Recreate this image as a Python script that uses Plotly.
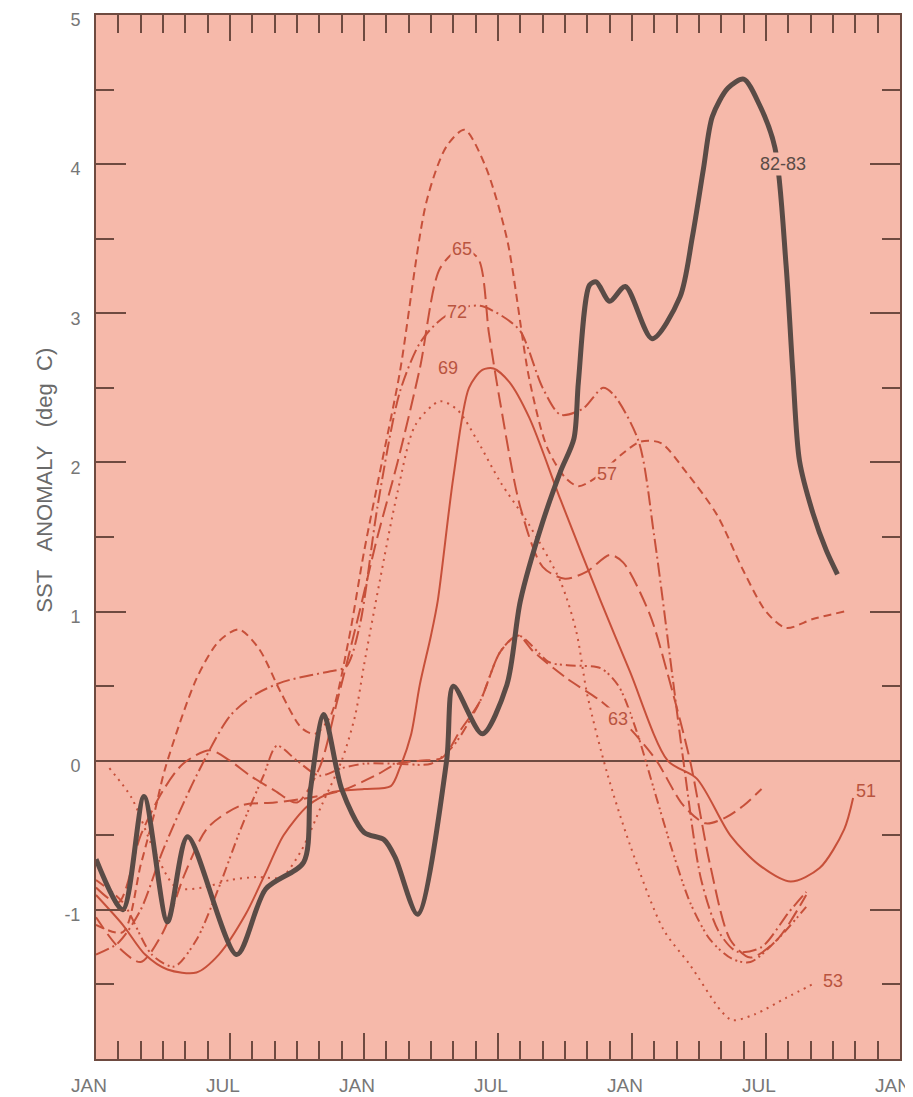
import plotly.graph_objects as go

# months since the first JAN on the axis (0..36), SST anomaly in deg C
x_8283 = [0, 1.2, 2.15, 3.2, 4.1, 6.3, 7.6, 9.3, 9.6, 10.2, 11.0, 12.0, 12.9, 13.4, 14.4, 15.7, 16.0, 17.3, 18.4, 19.0,
          20.0, 20.8, 21.4, 21.6, 22.1, 22.4, 23.0, 23.7, 24.9, 26.15, 26.7, 27.2, 27.6, 28.3, 29.0, 29.7, 30.4,
          30.9, 31.2, 31.5, 32.1, 32.7, 33.2]
y_8283 = [-0.66, -1.0, -0.24, -1.08, -0.51, -1.30, -0.86, -0.68, -0.2, 0.31, -0.19, -0.48, -0.53, -0.65, -1.03, 0.0,
          0.5, 0.18, 0.51, 1.07, 1.6, 1.94, 2.16, 2.54, 3.19, 3.21, 3.08, 3.18, 2.83, 3.11, 3.51, 3.97, 4.32, 4.51,
          4.57, 4.40, 4.11, 3.32, 2.61, 2.01, 1.66, 1.41, 1.25]

x_51 = [0, 1.2, 2.2, 3.2, 4.5, 5.5, 6.7, 7.6, 8.4, 9.5, 10.6, 12.0, 13.2, 13.6, 14.1, 14.5, 15.0, 15.3, 16.0, 16.7,
        17.3, 17.8, 18.5, 19.4, 20.8, 22.6, 23.9, 25.6, 26.9, 28.4, 29.7, 31.1, 32.4, 33.5, 33.9]
y_51 = [-0.9, -1.1, -1.3, -1.4, -1.42, -1.3, -1.03, -0.75, -0.5, -0.3, -0.21, -0.19, -0.17, -0.05, 0.17, 0.51, 0.84,
        1.07, 1.9, 2.5, 2.62, 2.63, 2.54, 2.3, 1.75, 1.07, 0.6, 0.0, -0.12, -0.5, -0.7, -0.81, -0.72, -0.46, -0.25]

x_53 = [0.6, 1.6, 2.6, 3.6, 4.8, 6.0, 7.2, 8.3, 9.2, 10.1, 11.0, 11.6, 12.0, 12.7, 13.5, 14.3, 15.4, 16.2, 17.1,
        18.1, 19.4, 20.8, 21.5, 22.0, 22.9, 23.9, 25.4, 26.6, 28.0, 28.5, 29.5, 30.9, 32.2]
y_53 = [-0.05, -0.25, -0.6, -0.85, -0.85, -0.8, -0.78, -0.78, -0.6, -0.3, 0.0, 0.3, 0.64, 1.2, 1.8, 2.25, 2.41,
        2.35, 2.14, 1.87, 1.58, 1.2, 0.87, 0.44, -0.09, -0.56, -1.13, -1.37, -1.68, -1.74, -1.7, -1.59, -1.49]

x_57 = [0, 1.2, 2.0, 2.6, 3.1, 4.5, 5.5, 6.4, 7.3, 8.3, 9.2, 9.8, 10.5, 11.3, 12.0, 12.8, 13.6, 14.8, 15.7, 16.5,
        17.4, 18.4, 19.4, 20.2, 21.0, 21.6, 22.4, 23.5, 24.4, 25.3, 26.4, 27.8, 29.0, 30.0, 30.9, 32.1, 33.5]
y_57 = [-1.1, -1.15, -0.7, -0.36, -0.05, 0.55, 0.8, 0.88, 0.75, 0.45, 0.22, 0.18, 0.3, 0.8, 1.4, 2.0, 2.6, 3.75,
        4.12, 4.23, 4.0, 3.5, 2.56, 2.1, 1.9, 1.84, 1.9, 2.05, 2.14, 2.13, 1.94, 1.65, 1.27, 1.0, 0.89, 0.95, 1.0]

x_63 = [0, 1.0, 2.0, 3.0, 4.0, 5.0, 6.5, 8.0, 9.5, 11.0, 12.5, 13.5, 14.5, 15.5, 16.3, 17.2, 18.1, 18.9, 19.6,
        21.1, 22.6, 23.5, 24.3, 25.1, 26.3, 27.3, 28.2, 29.0, 29.8]
y_63 = [-1.05, -1.25, -1.35, -1.15, -0.75, -0.45, -0.3, -0.28, -0.25, -0.2, -0.1, -0.02, 0.0, 0.02, 0.2, 0.4, 0.73,
        0.84, 0.73, 0.55, 0.4, 0.28, 0.15, 0.0, -0.3, -0.42, -0.38, -0.3, -0.19]

x_65 = [0, 1.0, 2.0, 3.0, 3.9, 5.1, 6.0, 6.9, 8.0, 9.0, 10.0, 10.8, 11.8, 12.6, 13.5, 14.5, 15.4, 16.3, 17.1, 17.6,
        18.1, 19.0, 20.0, 21.0, 22.0, 23.0, 23.6, 24.8, 25.6, 26.6, 27.5, 28.4, 29.3, 30.5, 31.8]
y_65 = [-0.85, -0.95, -0.5, -0.2, -0.02, 0.07, 0.0, -0.1, -0.2, -0.28, -0.05, 0.4, 1.0, 1.5, 2.0, 2.63, 3.3, 3.43,
        3.37, 2.86, 2.4, 1.7, 1.3, 1.22, 1.27, 1.38, 1.33, 0.98, 0.58, 0.0, -0.7, -1.2, -1.32, -1.2, -0.9]

x_69 = [0, 1.2, 2.5, 3.5, 4.5, 5.5, 6.5, 7.5, 8.1, 9.0, 10.0, 11.0, 12.0, 13.5, 15.0, 16.0, 17.2, 18.1, 18.9, 20.3,
        21.1, 22.6, 23.4, 24.2, 25.0, 25.8, 26.6, 27.5, 28.5, 29.3, 30.5, 31.8]
y_69 = [-0.8, -0.95, -1.3, -1.38, -1.2, -0.85, -0.45, -0.1, 0.1, 0.0, -0.1, -0.05, -0.02, -0.02, -0.02, 0.1, 0.4,
        0.73, 0.84, 0.66, 0.64, 0.62, 0.5, 0.2, -0.2, -0.6, -0.95, -1.2, -1.33, -1.35, -1.2, -0.98]

x_72 = [0, 1.0, 2.0, 3.0, 4.5, 6.0, 7.2, 8.4, 9.5, 10.5, 11.2, 11.8, 12.6, 13.6, 14.5, 15.3, 16.2, 17.2, 18.2, 19.0,
        20.0, 20.8, 21.8, 22.7, 23.2, 24.3, 25.0, 25.8, 26.3, 27.1, 27.9, 28.7, 29.8, 31.0, 31.8]
y_72 = [-1.3, -1.22, -1.0, -0.6, -0.1, 0.3, 0.45, 0.53, 0.57, 0.6, 0.63, 0.9, 1.7, 2.47, 2.8, 2.94, 3.03, 3.05,
        2.98, 2.88, 2.5, 2.32, 2.36, 2.5, 2.45, 2.14, 1.5, 0.58, 0.0, -0.8, -1.15, -1.28, -1.25, -1.02, -0.88]

label_text = ["82-83", "65", "72", "69", "57", "63", "51", "53"]
label_x = [30.76, 16.39, 16.16, 15.76, 22.88, 23.37, 34.48, 33.0]
label_y = [4.0, 3.43, 3.01, 2.63, 1.92, 0.28, -0.2, -1.48]

x_tickvals = [0, 6, 12, 18, 24, 30, 36]
x_ticktext = ["JAN", "JUL", "JAN", "JUL", "JAN", "JUL", "JAN"]
y_tickvals = [-1, 0, 1, 2, 3, 4, 5]
y_ticktext = ["-1", "0", "1", "2", "3", "4", "5"]

BG = "#f6b9aa"
AXC = "#6e4a40"
RED = "#c7503a"
DARK = "#5a4b46"

thin = [
    (x_51, y_51, "solid", "51"),
    (x_53, y_53, "2px,5px", "53"),
    (x_57, y_57, "8px,5px", "57"),
    (x_63, y_63, "14px,6px", "63"),
    (x_65, y_65, "16px,6px", "65"),
    (x_69, y_69, "10px,4px,2px,3px,2px,4px", "69"),
    (x_72, y_72, "14px,4px,2px,4px", "72"),
]

fig = go.Figure()
for xs, ys, dash, name in thin:
    fig.add_trace(go.Scatter(x=xs, y=ys, mode="lines", name=name,
                             line=dict(color=RED, width=2, dash=dash, shape="spline", smoothing=0.8)))
fig.add_trace(go.Scatter(x=x_8283, y=y_8283, mode="lines", name="82-83",
                         line=dict(color=DARK, width=5, shape="spline", smoothing=0.8)))

for t, lx, ly in zip(label_text, label_x, label_y):
    fig.add_annotation(x=lx, y=ly, text=t, showarrow=False,
                       font=dict(family="Liberation Sans, Arial", size=18,
                                 color=DARK if t == "82-83" else "#b9543f"),
                       bgcolor=BG, borderpad=1)

# y-axis title placed as rotated text
fig.add_annotation(xref="paper", yref="paper", x=-0.0634, y=0.554, xanchor="center", yanchor="middle",
                   text="SST\u00a0\u00a0\u00a0ANOMALY\u00a0\u00a0\u00a0(deg\u00a0\u00a0C)", textangle=-90,
                   showarrow=False, font=dict(family="Liberation Sans, Arial", size=22, color="#6a6a6a"))

# the page body adds an 8px offset, so the figure is sized and placed to compensate
fig.update_layout(
    width=905, height=1089,
    margin=dict(l=88, r=13, t=7, b=38, autoexpand=False),
    paper_bgcolor="white", plot_bgcolor=BG,
    showlegend=False,
    font=dict(family="Liberation Sans, Arial", color="#777777"),
)
fig.update_xaxes(
    range=[0, 36], tickvals=x_tickvals, ticktext=x_ticktext, automargin=False,
    showgrid=False, zeroline=False, showline=True, linecolor=AXC, linewidth=2, mirror="ticks",
    ticks="inside", ticklen=26, tickwidth=2, tickcolor=AXC, ticklabeloverflow="allow",
    tickfont=dict(size=19, color="#777777"), ticklabelstandoff=8, ticklabelshift=-7,
    minor=dict(tickmode="linear", tick0=0, dtick=1, ticks="inside", ticklen=18, tickwidth=2, tickcolor=AXC),
)
fig.update_yaxes(
    range=[-2, 5], tickvals=y_tickvals, ticktext=y_ticktext, automargin=False,
    showgrid=False, zeroline=True, zerolinecolor=AXC, zerolinewidth=1.5,
    showline=True, linecolor=AXC, linewidth=2, mirror="ticks",
    ticks="inside", ticklen=30, tickwidth=2, tickcolor=AXC, ticklabeloverflow="allow",
    tickfont=dict(size=18, color="#777777"), ticklabelstandoff=10, ticklabelshift=5,
    minor=dict(tickmode="linear", tick0=0, dtick=0.5, ticks="inside", ticklen=18, tickwidth=2, tickcolor=AXC),
)

fig.write_html("out.html")
